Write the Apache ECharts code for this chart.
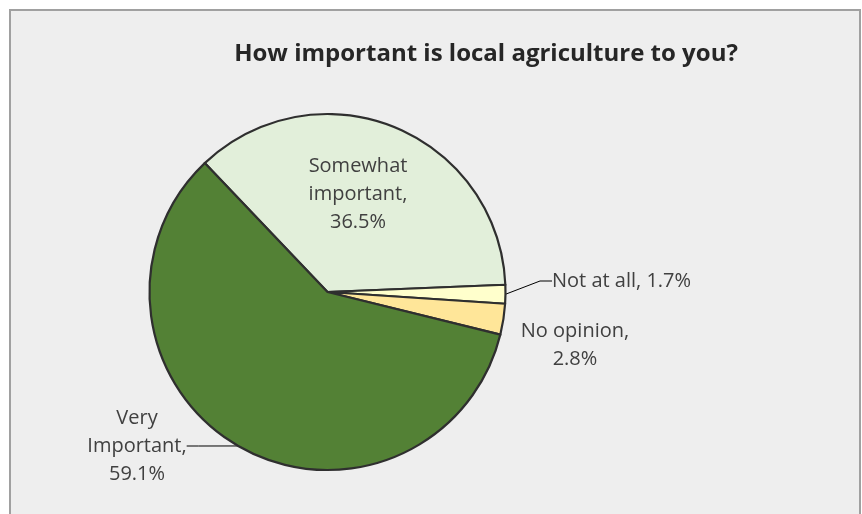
<!DOCTYPE html>
<html><head><meta charset="utf-8">
<script src="https://cdn.jsdelivr.net/npm/echarts@6/dist/echarts.min.js"></script>
<style>html,body{margin:0;padding:0;background:#fff;}#c{width:862px;height:514px;}</style>
</head><body><div id="c"></div>
<script>
const categories = ["Somewhat important", "Not at all", "No opinion", "Very Important"];
const values = [36.5, 1.7, 2.8, 59.1];
const labelTexts = ["Somewhat\nimportant,\n36.5%", "Not at all, 1.7%", "No opinion,\n2.8%", "Very\nImportant,\n59.1%"];
const colors = ["#E2EFDA", "#FFFFCC", "#FFE699", "#538135"];

const labelPos = [
  {x: 358, y: 194, align: 'center', showLine: false},
  {x: 552, y: 281, align: 'left', showLine: true},
  {x: 575, y: 345, align: 'center', showLine: false},
  {x: 137, y: 446, align: 'center', showLine: true}
];

const chart = echarts.init(document.getElementById('c'), null, {renderer: 'canvas'});
const font = '"Open Sans", sans-serif';
chart.setOption({
  backgroundColor: '#ffffff',
  animation: false,
  graphic: [{
    type: 'rect', z: -10,
    shape: {x: 10, y: 10, width: 850, height: 520},
    style: {fill: '#EEEEEE', stroke: '#A0A0A0', lineWidth: 2}
  }],
  title: {
    text: 'How important is local agriculture to you?',
    left: 481, top: 37, textAlign: 'center',
    textStyle: {fontFamily: font, fontWeight: 'bold', fontSize: 24, color: '#262626'}
  },
  series: [{
    type: 'pie',
    center: [327.5, 292],
    radius: [0, 178],
    startAngle: 133.6,
    clockwise: true,
    avoidLabelOverlap: false,
    itemStyle: {borderColor: '#2F2F2F', borderWidth: 2.2},
    label: {
      show: true, position: 'outside',
      fontFamily: font, fontSize: 20, color: '#404040', lineHeight: 28,
      formatter: p => labelTexts[p.dataIndex]
    },
    labelLine: {show: true, length: 15, length2: 12, lineStyle: {color: '#000', width: 1}},
    labelLayout: p => ({
      x: labelPos[p.dataIndex].x,
      y: labelPos[p.dataIndex].y,
      align: labelPos[p.dataIndex].align,
      verticalAlign: 'middle'
    }),
    data: categories.map((c, i) => ({
      name: c, value: values[i],
      itemStyle: {color: colors[i]},
      label: {align: labelPos[i].align},
      labelLine: {show: labelPos[i].showLine}
    }))
  }]
});
</script></body></html>
